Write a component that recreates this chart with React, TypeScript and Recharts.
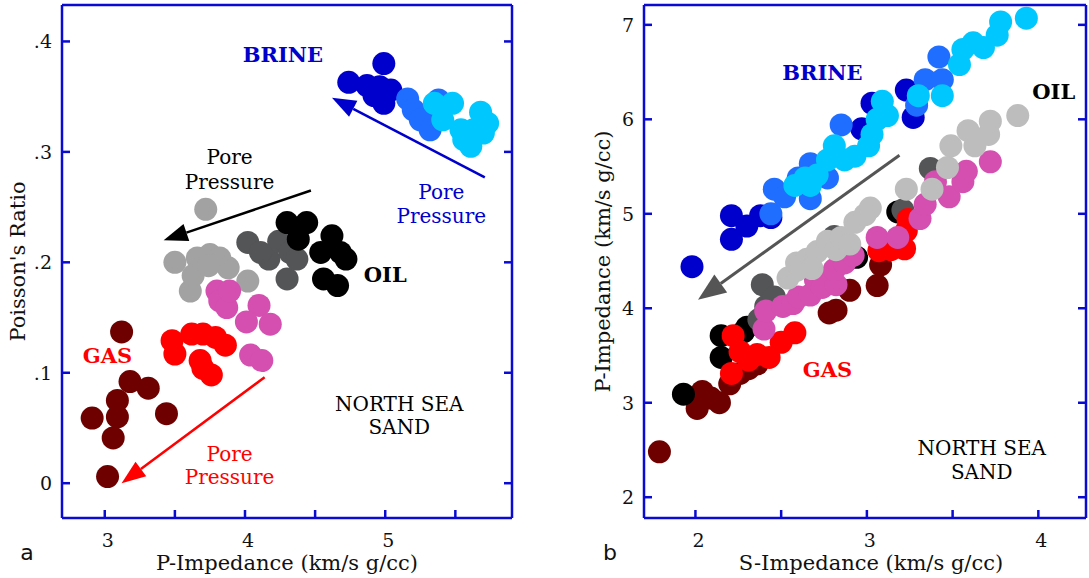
import React from "react";
import { ScatterChart, Scatter, XAxis, YAxis, ReferenceDot, ReferenceLine } from "recharts";

const FRAME = "#0a0ad2";
const SERIF = "'DejaVu Serif', serif";
const TICK_LEN = 8;
const R = 11.5;

const C = {
  brown: "#6e0000",
  red: "#ff0000",
  pink: "#d44fb0",
  lightGray: "#a2a2a2",
  lightGrayB: "#bdbdbd",
  darkGray: "#545557",
  black: "#000000",
  darkBlue: "#0000cc",
  midBlue: "#1f6eff",
  cyan: "#00c8ff",
};

// ---- panel a: Poisson's ratio vs P-impedance ----
const aTicksX = [3, 3.5, 4, 4.5, 5, 5.5];
const aTicksY = [0, 0.1, 0.2, 0.3, 0.4];

const aBrown = [[3.12, 0.137], [3.18, 0.092], [3.31, 0.086], [3.09, 0.075], [2.91, 0.059], [3.09, 0.06], [3.06, 0.041], [3.44, 0.063], [3.02, 0.006]];
const aRed = [[3.48, 0.129], [3.5, 0.117], [3.62, 0.135], [3.7, 0.135], [3.79, 0.132], [3.86, 0.125], [3.68, 0.111], [3.76, 0.098], [3.7, 0.104]];
const aLightGray = [[3.72, 0.248], [3.5, 0.2], [3.66, 0.204], [3.75, 0.207], [3.82, 0.204], [3.88, 0.195], [3.61, 0.174], [3.63, 0.188], [4.02, 0.183], [3.74, 0.197]];
const aPink = [[3.8, 0.174], [3.82, 0.165], [3.87, 0.159], [3.89, 0.174], [4.1, 0.161], [4.01, 0.146], [4.18, 0.144], [4.04, 0.116], [4.12, 0.111]];
const aDarkGray = [[4.02, 0.218], [4.17, 0.203], [4.24, 0.219], [4.32, 0.209], [4.3, 0.185], [4.11, 0.209], [4.37, 0.203]];
const aBlack = [[4.3, 0.236], [4.44, 0.236], [4.38, 0.221], [4.62, 0.224], [4.54, 0.209], [4.68, 0.209], [4.72, 0.203], [4.56, 0.185], [4.66, 0.179]];
const aDarkBlue = [[4.99, 0.38], [4.74, 0.363], [4.87, 0.36], [4.96, 0.359], [5.04, 0.356], [4.99, 0.344], [4.92, 0.351]];
const aMidBlue = [[5.16, 0.348], [5.2, 0.338], [5.35, 0.329], [5.32, 0.32], [5.25, 0.329], [5.38, 0.347]];
const aCyan = [[5.35, 0.344], [5.48, 0.344], [5.41, 0.329], [5.68, 0.336], [5.73, 0.326], [5.7, 0.317], [5.56, 0.311], [5.61, 0.305], [5.54, 0.32], [5.63, 0.32]];

const aNotes = [
  { x: 4.27, y: 0.388, text: "BRINE", color: C.darkBlue, bold: true },
  { x: 3.89, y: 0.296, text: "Pore", color: "#000", bold: false },
  { x: 3.89, y: 0.273, text: "Pressure", color: "#000", bold: false },
  { x: 5.4, y: 0.264, text: "Pore", color: C.darkBlue, bold: false },
  { x: 5.4, y: 0.242, text: "Pressure", color: C.darkBlue, bold: false },
  { x: 5.0, y: 0.189, text: "OIL", color: "#000", bold: true },
  { x: 3.02, y: 0.116, text: "GAS", color: C.red, bold: true },
  { x: 5.1, y: 0.072, text: "NORTH SEA", color: "#000", bold: false },
  { x: 5.1, y: 0.051, text: "SAND", color: "#000", bold: false },
  { x: 3.89, y: 0.027, text: "Pore", color: C.red, bold: false },
  { x: 3.89, y: 0.006, text: "Pressure", color: C.red, bold: false },
];
const aArrows = [
  { from: [5.71, 0.277], to: [4.62, 0.349], color: C.darkBlue },
  { from: [4.47, 0.265], to: [3.42, 0.22], color: "#000" },
  { from: [4.14, 0.096], to: [3.12, 0.0], color: C.red },
];

// ---- panel b: P-impedance vs S-impedance ----
const bTicksX = [2, 2.5, 3, 3.5, 4];
const bTicksY = [2, 3, 4, 5, 6, 7];

const bBrown = [[1.79, 2.48], [2.01, 2.94], [2.04, 3.12], [2.14, 3.0], [2.09, 3.05], [2.2, 3.2], [2.26, 3.31], [2.36, 3.41], [2.31, 3.36], [2.78, 3.95], [2.82, 3.98], [2.9, 4.19], [3.06, 4.24], [3.08, 4.46]];
const bBlack = [[1.93, 3.09], [2.15, 3.71], [2.15, 3.48], [2.3, 3.8], [2.28, 3.75], [2.94, 4.54], [3.18, 5.02]];
const bDarkGray = [[2.39, 4.25], [2.41, 4.02], [2.37, 3.88], [2.46, 4.12], [2.81, 4.76], [3.21, 5.04], [3.37, 5.48]];
const bRed = [[2.22, 3.71], [2.26, 3.54], [2.21, 3.31], [2.31, 3.45], [2.36, 3.51], [2.43, 3.48], [2.5, 3.64], [2.58, 3.74], [3.07, 4.61], [3.14, 4.62], [3.22, 4.63], [3.23, 4.82], [3.24, 4.94]];
const bPink = [[2.4, 3.78], [2.41, 3.97], [2.51, 4.02], [2.57, 4.05], [2.6, 4.12], [2.67, 4.14], [2.7, 4.3], [2.74, 4.22], [2.82, 4.25], [2.81, 4.41], [2.87, 4.48], [2.92, 4.56], [3.06, 4.75], [3.18, 4.75], [3.31, 4.95], [3.34, 5.1], [3.4, 5.34], [3.48, 5.18], [3.56, 5.34], [3.58, 5.45], [3.72, 5.55]];
const bLightGray = [[2.54, 4.32], [2.59, 4.4], [2.59, 4.48], [2.65, 4.52], [2.68, 4.42], [2.71, 4.6], [2.77, 4.71], [2.82, 4.62], [2.85, 4.75], [2.9, 4.68], [2.93, 4.91], [2.99, 4.99], [3.02, 5.06], [3.23, 5.26], [3.38, 5.26], [3.47, 5.49], [3.49, 5.72], [3.63, 5.72], [3.59, 5.88], [3.71, 5.84], [3.72, 5.98], [3.88, 6.04]];
const bDarkBlue = [[1.98, 4.44], [2.21, 4.98], [2.21, 4.73], [2.3, 4.87], [2.38, 4.98], [2.44, 4.96], [2.97, 5.9], [3.03, 6.17], [3.23, 6.31], [3.27, 6.02]];
const bMidBlue = [[2.44, 5.0], [2.46, 5.26], [2.52, 5.18], [2.6, 5.38], [2.67, 5.53], [2.67, 5.16], [2.77, 5.38], [2.85, 5.94], [3.29, 6.15], [3.34, 6.42], [3.44, 6.42], [3.42, 6.66]];
const bCyan = [[2.58, 5.3], [2.64, 5.38], [2.67, 5.3], [2.71, 5.41], [2.77, 5.57], [2.81, 5.72], [2.87, 5.57], [2.93, 5.61], [3.01, 5.72], [3.03, 5.84], [3.06, 6.0], [3.12, 6.04], [3.09, 6.19], [3.3, 6.25], [3.44, 6.25], [3.54, 6.58], [3.56, 6.74], [3.62, 6.81], [3.68, 6.76], [3.76, 6.89], [3.78, 7.03], [3.93, 7.07]];

const bNotes = [
  { x: 2.74, y: 6.5, text: "BRINE", color: C.darkBlue, bold: true },
  { x: 4.09, y: 6.29, text: "OIL", color: "#000", bold: true },
  { x: 2.77, y: 3.35, text: "GAS", color: C.red, bold: true },
  { x: 3.67, y: 2.52, text: "NORTH SEA", color: "#000", bold: false },
  { x: 3.67, y: 2.27, text: "SAND", color: "#000", bold: false },
];
const bArrows = [{ from: [3.19, 5.62], to: [2.015, 4.09], color: "#555555" }];

const pts = (arr: number[][]) => arr.map(([x, y]) => ({ x, y }));

const dot = (color: string) => (p: any) => <circle cx={p.cx} cy={p.cy} r={R} fill={color} />;

type Side = "bottom" | "top" | "left" | "right";
function axisTick(side: Side, format?: (v: number) => string) {
  return (props: any) => {
    const { x, y, payload } = props;
    const v = payload.value as number;
    const label = format ? format(v) : "";
    let l = [x, y, x, y - TICK_LEN];
    if (side === "top") l = [x, y, x, y + TICK_LEN];
    if (side === "left") l = [x, y, x + TICK_LEN, y];
    if (side === "right") l = [x, y, x - TICK_LEN, y];
    return (
      <g>
        <line x1={l[0]} y1={l[1]} x2={l[2]} y2={l[3]} stroke={FRAME} strokeWidth={2.5} />
        {label && side === "bottom" && (
          <text x={x + 3} y={y + 29} textAnchor="middle" fontFamily={SERIF} fontSize={19} fill="#111">{label}</text>
        )}
        {label && side === "left" && (
          <text x={x - 10} y={y + 7} textAnchor="end" fontFamily={SERIF} fontSize={19} fill="#111">{label}</text>
        )}
      </g>
    );
  };
}

const intOnly = (v: number) => (Number.isInteger(v) ? String(v) : "");
const ratioFmt = (v: number) => (v === 0 ? "0" : "." + Math.round(v * 10));

function arrowShape(color: string, width: number, len: number, half: number) {
  return (p: any) => {
    const { x1, y1, x2, y2 } = p;
    const a = Math.atan2(y2 - y1, x2 - x1);
    const bx = x2 - len * Math.cos(a);
    const by = y2 - len * Math.sin(a);
    const nx = -Math.sin(a) * half;
    const ny = Math.cos(a) * half;
    return (
      <g>
        <line x1={x1} y1={y1} x2={bx} y2={by} stroke={color} strokeWidth={width} />
        <polygon points={`${x2},${y2} ${bx + nx},${by + ny} ${bx - nx},${by - ny}`} fill={color} />
      </g>
    );
  };
}

function noteShape(n: { text: string; color: string; bold: boolean }) {
  return (p: any) => (
    <text x={p.cx} y={p.cy} dy="0.36em" textAnchor="middle" fontFamily={SERIF} fontSize={n.bold ? 21 : 20}
      fontWeight={n.bold ? "bold" : "normal"} fill={n.color}>{n.text}</text>
  );
}

function bottomTitle(title: string, letter: string, dx: number, letterDx: number) {
  return (p: any) => {
    const vb = p.viewBox;
    return (
      <g>
        <text x={vb.x + vb.width / 2 + dx} y={vb.y + 52} textAnchor="middle" fontFamily={SERIF} fontSize={21} fill="#111">{title}</text>
        <text x={vb.x + letterDx} y={vb.y + 42} textAnchor="middle" fontFamily="'DejaVu Sans', sans-serif" fontSize={22} fill="#111">{letter}</text>
      </g>
    );
  };
}

function sideTitle(title: string, cx: number) {
  return (p: any) => {
    const vb = p.viewBox;
    const cy = vb.y + vb.height / 2;
    return (
      <text x={cx} y={cy} transform={`rotate(-90, ${cx}, ${cy})`} dy="0.36em" textAnchor="middle"
        fontFamily={SERIF} fontSize={21} fill="#111">{title}</text>
    );
  };
}

const axisLine = { stroke: FRAME, strokeWidth: 2.5 };

export default function App() {
  const aDomX: [number, number] = [2.695, 5.904];
  const aDomY: [number, number] = [-0.0315, 0.433];
  const bDomX: [number, number] = [1.7, 4.278];
  const bDomY: [number, number] = [1.78, 7.21];

  const aSeries = [
    [aBrown, C.brown], [aRed, C.red], [aLightGray, C.lightGray], [aPink, C.pink],
    [aDarkGray, C.darkGray], [aBlack, C.black], [aDarkBlue, C.darkBlue], [aMidBlue, C.midBlue], [aCyan, C.cyan],
  ] as [number[][], string][];
  const bSeries = [
    [bBrown, C.brown], [bBlack, C.black], [bDarkGray, C.darkGray], [bRed, C.red], [bPink, C.pink],
    [bLightGray, C.lightGrayB], [bDarkBlue, C.darkBlue], [bMidBlue, C.midBlue], [bCyan, C.cyan],
  ] as [number[][], string][];

  return (
    <div style={{ position: "absolute", left: 0, top: 0, width: 1089, height: 578, background: "#fff", fontFamily: SERIF }}>
      <div style={{ position: "absolute", left: 0, top: 0 }}>
        <ScatterChart width={540} height={578} margin={{ top: 0, right: 0, bottom: 0, left: 0 }}>
          <XAxis type="number" dataKey="x" domain={aDomX} allowDataOverflow ticks={aTicksX} interval={0}
            height={60} axisLine={axisLine} tickLine={false} tickSize={0} tickMargin={0}
            tick={axisTick("bottom", intOnly)} label={bottomTitle("P-Impedance (km/s g/cc)", "a", 0, -35)} />
          <XAxis xAxisId="top" orientation="top" type="number" domain={aDomX} allowDataOverflow ticks={aTicksX} interval={0}
            height={5} axisLine={axisLine} tickLine={false} tickSize={0} tickMargin={0} tick={axisTick("top")} />
          <YAxis type="number" dataKey="y" domain={aDomY} allowDataOverflow ticks={aTicksY} interval={0}
            width={62} axisLine={axisLine} tickLine={false} tickSize={0} tickMargin={0}
            tick={axisTick("left", ratioFmt)} label={sideTitle("Poisson's Ratio", 17)} />
          <YAxis yAxisId="right" orientation="right" type="number" domain={aDomY} allowDataOverflow ticks={aTicksY} interval={0}
            width={28} axisLine={axisLine} tickLine={false} tickSize={0} tickMargin={0} tick={axisTick("right")} />
          {aSeries.map(([d, col], i) => (
            <Scatter key={i} data={pts(d)} fill={col} shape={dot(col)} isAnimationActive={false} />
          ))}
          {aArrows.map((a, i) => (
            <ReferenceLine key={"ar" + i} ifOverflow="visible"
              segment={[{ x: a.from[0], y: a.from[1] }, { x: a.to[0], y: a.to[1] }]}
              shape={arrowShape(a.color, 2.5, 24, 9)} />
          ))}
          {aNotes.map((n, i) => (
            <ReferenceDot key={"n" + i} x={n.x} y={n.y} r={0} ifOverflow="visible" shape={noteShape(n)} />
          ))}
        </ScatterChart>
      </div>
      <div style={{ position: "absolute", left: 540, top: 0 }}>
        <ScatterChart width={549} height={578} margin={{ top: 0, right: 0, bottom: 0, left: 0 }}>
          <XAxis type="number" dataKey="x" domain={bDomX} allowDataOverflow ticks={bTicksX} interval={0}
            height={60} axisLine={axisLine} tickLine={false} tickSize={0} tickMargin={0}
            tick={axisTick("bottom", intOnly)} label={bottomTitle("S-Impedance (km/s g/cc)", "b", 6, -34)} />
          <XAxis xAxisId="top" orientation="top" type="number" domain={bDomX} allowDataOverflow ticks={bTicksX} interval={0}
            height={5} axisLine={axisLine} tickLine={false} tickSize={0} tickMargin={0} tick={axisTick("top")} />
          <YAxis type="number" dataKey="y" domain={bDomY} allowDataOverflow ticks={bTicksY} interval={0}
            width={104} axisLine={axisLine} tickLine={false} tickSize={0} tickMargin={0}
            tick={axisTick("left", String)} label={sideTitle("P-Impedance (km/s g/cc)", 62)} />
          <YAxis yAxisId="right" orientation="right" type="number" domain={bDomY} allowDataOverflow ticks={bTicksY} interval={0}
            width={3} axisLine={axisLine} tickLine={false} tickSize={0} tickMargin={0} tick={axisTick("right")} />
          {bSeries.map(([d, col], i) => (
            <Scatter key={i} data={pts(d)} fill={col} shape={dot(col)} isAnimationActive={false} />
          ))}
          {bArrows.map((a, i) => (
            <ReferenceLine key={"ar" + i} ifOverflow="visible"
              segment={[{ x: a.from[0], y: a.from[1] }, { x: a.to[0], y: a.to[1] }]}
              shape={arrowShape(a.color, 3, 28, 11)} />
          ))}
          {bNotes.map((n, i) => (
            <ReferenceDot key={"n" + i} x={n.x} y={n.y} r={0} ifOverflow="visible" shape={noteShape(n)} />
          ))}
        </ScatterChart>
      </div>
    </div>
  );
}
